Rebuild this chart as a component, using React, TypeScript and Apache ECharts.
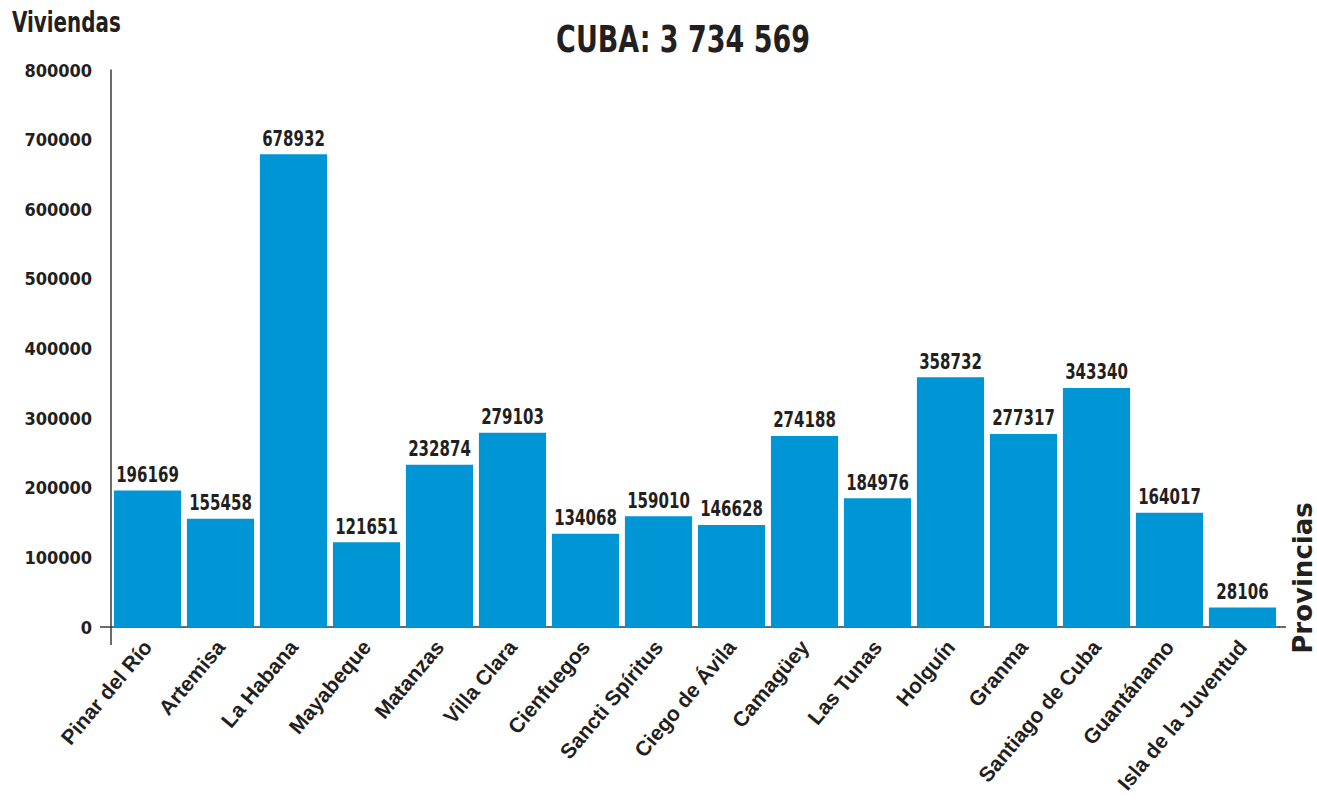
import React, { useEffect, useRef } from "react";
import * as echarts from "echarts";

const provinces = [
  "Pinar del Río",
  "Artemisa",
  "La Habana",
  "Mayabeque",
  "Matanzas",
  "Villa Clara",
  "Cienfuegos",
  "Sancti Spíritus",
  "Ciego de Ávila",
  "Camagüey",
  "Las Tunas",
  "Holguín",
  "Granma",
  "Santiago de Cuba",
  "Guantánamo",
  "Isla de la Juventud",
];

const viviendas = [
  196169, 155458, 678932, 121651, 232874, 279103, 134068, 159010, 146628,
  274188, 184976, 358732, 277317, 343340, 164017, 28106,
];

const yTicks = [0, 100000, 200000, 300000, 400000, 500000, 600000, 700000, 800000];

const titleText = "CUBA: 3 734 569";
const yName = "Viviendas";
const xName = "Provincias";

const NARROW = '"DejaVu Sans Condensed", "Liberation Sans Narrow", sans-serif';
const INK = "#231f20";
const AXIS = "#3a3a3a";

export default function App() {
  const ref = useRef<HTMLDivElement>(null);

  useEffect(() => {
    if (!ref.current) return;
    const chart = echarts.init(ref.current, null, { renderer: "svg" });
    chart.setOption({
      animation: false,
      backgroundColor: "#ffffff",
      grid: { left: 111, right: 38, top: 70, bottom: 178, containLabel: false },
      xAxis: {
        type: "category",
        data: provinces,
        axisLine: { show: true, lineStyle: { color: AXIS, width: 1.5 } },
        axisTick: { show: false },
        axisLabel: {
          rotate: 50,
          interval: 0,
          margin: 16,
          fontFamily: '"Liberation Sans", Arial, sans-serif',
          fontWeight: "bold",
          fontSize: 21,
          color: INK,
        },
      },
      yAxis: {
        type: "value",
        min: yTicks[0],
        max: yTicks[yTicks.length - 1],
        interval: yTicks[1] - yTicks[0],
        axisLine: { show: true, lineStyle: { color: AXIS, width: 1.5 } },
        axisTick: { show: false },
        splitLine: { show: false },
        axisLabel: {
          margin: 19,
          formatter: (v: number) => String(v),
          fontFamily: NARROW,
          fontWeight: "bold",
          fontSize: 18,
          color: INK,
        },
      },
      series: [
        {
          type: "bar",
          data: viviendas,
          barCategoryGap: "8%",
          itemStyle: { color: "#0096d6" },
          label: { show: false },
        },
        {
          type: "custom",
          data: viviendas.map((v, i) => [i, v]),
          encode: { x: 0, y: 1 },
          z: 5,
          renderItem: (params: any, api: any) => {
            const val = api.value(1);
            const pt = api.coord([api.value(0), val]);
            return {
              type: "text",
              x: pt[0],
              y: pt[1] - 5,
              scaleX: 0.76,
              style: {
                text: String(val),
                fontFamily: NARROW,
                fontWeight: "bold",
                fontSize: 22,
                fill: INK,
                align: "center",
                verticalAlign: "bottom",
              },
            };
          },
        },
      ],
      graphic: [
        {
          type: "text",
          x: 683,
          y: 39,
          scaleX: 0.81,
          style: {
            text: titleText,
            fontFamily: NARROW,
            fontWeight: "bold",
            fontSize: 37,
            fill: INK,
            align: "center",
            verticalAlign: "middle",
          },
        },
        {
          type: "text",
          x: 12,
          y: 9,
          scaleX: 0.79,
          style: {
            text: yName,
            fontFamily: NARROW,
            fontWeight: "bold",
            fontSize: 28,
            fill: INK,
            align: "left",
            verticalAlign: "top",
          },
        },
        {
          type: "text",
          x: 1303,
          y: 578,
          rotation: Math.PI / 2,
          style: {
            text: xName,
            fontFamily: '"DejaVu Sans", sans-serif',
            fontWeight: "bold",
            fontSize: 26,
            fill: INK,
            align: "center",
            verticalAlign: "middle",
          },
        },
        {
          type: "line",
          shape: { x1: 111, y1: 627, x2: 111, y2: 645 },
          style: { stroke: AXIS, lineWidth: 1.5 },
        },
        {
          type: "line",
          shape: { x1: 100, y1: 627, x2: 111, y2: 627 },
          style: { stroke: AXIS, lineWidth: 1.5 },
        },
        {
          type: "line",
          shape: { x1: 1279, y1: 627, x2: 1286, y2: 627 },
          style: { stroke: AXIS, lineWidth: 1.5 },
        },
      ],
    });
    return () => chart.dispose();
  }, []);

  return (
    <div
      ref={ref}
      style={{ position: "absolute", left: 0, top: 0, width: 1317, height: 805 }}
    />
  );
}
